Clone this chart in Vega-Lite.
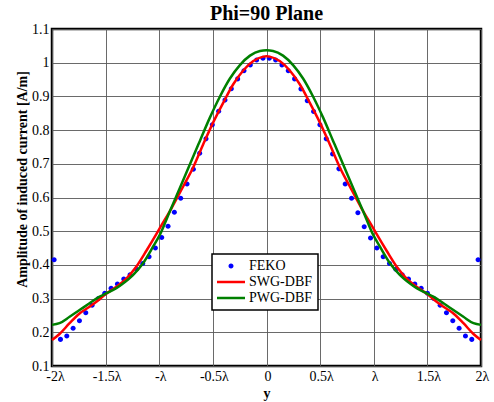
{
  "$schema": "https://vega.github.io/schema/vega-lite/v6.json",
  "width": 429,
  "height": 337,
  "autosize": "none",
  "padding": {"left": 52, "top": 29, "right": 13, "bottom": 36},
  "background": "white",
  "title": {"text": "Phi=90 Plane", "font": "Liberation Serif", "fontSize": 20, "fontWeight": "bold", "anchor": "middle", "offset": -2, "color": "black"},
  "config": {
    "font": "Liberation Serif",
    "view": {"stroke": "black", "strokeWidth": 2.5},
    "axis": {"domain": false, "ticks": false, "grid": true, "gridColor": "#5a5a5a", "gridWidth": 1, "gridOpacity": 0.9, "labelFont": "Liberation Serif", "labelFontSize": 14, "labelColor": "black", "titleFont": "Liberation Serif", "titleFontSize": 14, "titleFontWeight": "bold", "titleColor": "black"},
    "legend": {"orient": "none", "legendX": 160, "legendY": 225, "fillColor": "white", "strokeColor": "black", "strokeWidth": 1.5, "padding": 5,
      "symbolSize": 196, "symbolOffset": 7, "labelOffset": 11, "rowPadding": 2, "labelFont": "Liberation Serif", "labelFontSize": 14, "labelColor": "black"}
  },
  "datasets": {
    "feko": [
      {"x": -1.980, "y": 0.415}, {"x": -1.921, "y": 0.179}, {"x": -1.862, "y": 0.189}, {"x": -1.803, "y": 0.212},
      {"x": -1.744, "y": 0.234}, {"x": -1.685, "y": 0.258}, {"x": -1.626, "y": 0.280}, {"x": -1.567, "y": 0.300},
      {"x": -1.508, "y": 0.316}, {"x": -1.449, "y": 0.331}, {"x": -1.390, "y": 0.343}, {"x": -1.331, "y": 0.358},
      {"x": -1.272, "y": 0.371}, {"x": -1.213, "y": 0.387}, {"x": -1.154, "y": 0.404}, {"x": -1.095, "y": 0.424},
      {"x": -1.036, "y": 0.450}, {"x": -0.977, "y": 0.481}, {"x": -0.918, "y": 0.515}, {"x": -0.859, "y": 0.556},
      {"x": -0.800, "y": 0.598}, {"x": -0.741, "y": 0.640}, {"x": -0.682, "y": 0.684}, {"x": -0.623, "y": 0.731},
      {"x": -0.564, "y": 0.774}, {"x": -0.505, "y": 0.816}, {"x": -0.446, "y": 0.856}, {"x": -0.387, "y": 0.889},
      {"x": -0.328, "y": 0.923}, {"x": -0.269, "y": 0.952}, {"x": -0.210, "y": 0.976}, {"x": -0.151, "y": 0.993},
      {"x": -0.092, "y": 1.008}, {"x": -0.033, "y": 1.013}, {"x": 0.026, "y": 1.013}, {"x": 0.085, "y": 1.008},
      {"x": 0.144, "y": 0.993}, {"x": 0.203, "y": 0.976}, {"x": 0.262, "y": 0.952}, {"x": 0.321, "y": 0.922},
      {"x": 0.380, "y": 0.887}, {"x": 0.439, "y": 0.855}, {"x": 0.498, "y": 0.816}, {"x": 0.557, "y": 0.774},
      {"x": 0.616, "y": 0.729}, {"x": 0.675, "y": 0.685}, {"x": 0.734, "y": 0.640}, {"x": 0.793, "y": 0.598},
      {"x": 0.852, "y": 0.555}, {"x": 0.911, "y": 0.513}, {"x": 0.970, "y": 0.480}, {"x": 1.029, "y": 0.450},
      {"x": 1.088, "y": 0.424}, {"x": 1.147, "y": 0.404}, {"x": 1.206, "y": 0.387}, {"x": 1.265, "y": 0.371},
      {"x": 1.324, "y": 0.358}, {"x": 1.383, "y": 0.343}, {"x": 1.442, "y": 0.331}, {"x": 1.501, "y": 0.316},
      {"x": 1.560, "y": 0.300}, {"x": 1.619, "y": 0.280}, {"x": 1.678, "y": 0.258}, {"x": 1.737, "y": 0.234},
      {"x": 1.796, "y": 0.212}, {"x": 1.855, "y": 0.189}, {"x": 1.914, "y": 0.179}, {"x": 1.973, "y": 0.415}
    ],
    "swg": [
      {"x": -2.0, "y": 0.177}, {"x": -1.93, "y": 0.195}, {"x": -1.836, "y": 0.227}, {"x": -1.743, "y": 0.256},
      {"x": -1.65, "y": 0.276}, {"x": -1.556, "y": 0.298}, {"x": -1.509, "y": 0.311}, {"x": -1.40, "y": 0.335},
      {"x": -1.307, "y": 0.359}, {"x": -1.22, "y": 0.392}, {"x": -1.12, "y": 0.442}, {"x": -1.026, "y": 0.492},
      {"x": -0.995, "y": 0.509}, {"x": -0.886, "y": 0.568}, {"x": -0.778, "y": 0.632}, {"x": -0.684, "y": 0.689},
      {"x": -0.590, "y": 0.758}, {"x": -0.497, "y": 0.823}, {"x": -0.404, "y": 0.881}, {"x": -0.310, "y": 0.936},
      {"x": -0.217, "y": 0.977}, {"x": -0.123, "y": 1.005}, {"x": -0.03, "y": 1.018}, {"x": 0, "y": 1.019},
      {"x": 0.03, "y": 1.018}, {"x": 0.123, "y": 1.005}, {"x": 0.217, "y": 0.977}, {"x": 0.310, "y": 0.936},
      {"x": 0.404, "y": 0.881}, {"x": 0.497, "y": 0.823}, {"x": 0.590, "y": 0.758}, {"x": 0.684, "y": 0.689},
      {"x": 0.778, "y": 0.632}, {"x": 0.886, "y": 0.568}, {"x": 0.995, "y": 0.509}, {"x": 1.026, "y": 0.492},
      {"x": 1.12, "y": 0.442}, {"x": 1.22, "y": 0.392}, {"x": 1.307, "y": 0.359}, {"x": 1.40, "y": 0.335},
      {"x": 1.509, "y": 0.311}, {"x": 1.556, "y": 0.298}, {"x": 1.65, "y": 0.276}, {"x": 1.743, "y": 0.256},
      {"x": 1.836, "y": 0.227}, {"x": 1.93, "y": 0.195}, {"x": 2.0, "y": 0.177}
    ],
    "pwg": [
      {"x": -2.0, "y": 0.222}, {"x": -1.93, "y": 0.227}, {"x": -1.836, "y": 0.246}, {"x": -1.743, "y": 0.266},
      {"x": -1.65, "y": 0.286}, {"x": -1.556, "y": 0.306}, {"x": -1.49, "y": 0.316}, {"x": -1.40, "y": 0.331},
      {"x": -1.338, "y": 0.345}, {"x": -1.245, "y": 0.370}, {"x": -1.151, "y": 0.405}, {"x": -1.058, "y": 0.454},
      {"x": -0.995, "y": 0.489}, {"x": -0.900, "y": 0.560}, {"x": -0.808, "y": 0.628}, {"x": -0.715, "y": 0.698},
      {"x": -0.621, "y": 0.768}, {"x": -0.528, "y": 0.837}, {"x": -0.435, "y": 0.899}, {"x": -0.341, "y": 0.953},
      {"x": -0.248, "y": 0.993}, {"x": -0.154, "y": 1.021}, {"x": -0.061, "y": 1.035}, {"x": 0, "y": 1.037},
      {"x": 0.061, "y": 1.035}, {"x": 0.154, "y": 1.021}, {"x": 0.248, "y": 0.993}, {"x": 0.341, "y": 0.953},
      {"x": 0.435, "y": 0.899}, {"x": 0.528, "y": 0.837}, {"x": 0.621, "y": 0.768}, {"x": 0.715, "y": 0.698},
      {"x": 0.808, "y": 0.628}, {"x": 0.900, "y": 0.560}, {"x": 0.995, "y": 0.489}, {"x": 1.058, "y": 0.454},
      {"x": 1.151, "y": 0.405}, {"x": 1.245, "y": 0.370}, {"x": 1.338, "y": 0.345}, {"x": 1.40, "y": 0.331},
      {"x": 1.49, "y": 0.316}, {"x": 1.556, "y": 0.306}, {"x": 1.65, "y": 0.286}, {"x": 1.743, "y": 0.266},
      {"x": 1.836, "y": 0.246}, {"x": 1.93, "y": 0.227}, {"x": 2.0, "y": 0.222}
    ]
  },
  "encoding": {
    "x": {"field": "x", "type": "quantitative", "scale": {"domain": [-2, 2], "nice": false, "zero": false},
      "axis": {"title": "y", "values": [-2, -1.5, -1, -0.5, 0, 0.5, 1, 1.5, 2], "labelPadding": 3, "labelFlush": false,
        "labelOffset": {"condition": {"test": "datum.value == -2", "value": 3}, "value": 1},
        "labelExpr": "datum.value == 0 ? '0' : (datum.value < 0 ? '-' : '') + (abs(datum.value) == 1 ? '' : format(abs(datum.value), '~g')) + 'λ'",
        "titleY": 31, "titleBaseline": "alphabetic"}},
    "y": {"field": "y", "type": "quantitative", "scale": {"domain": [0.1, 1.1], "nice": false, "zero": false},
      "axis": {"title": "Amplitude of induced current [A/m]", "values": [0.1, 0.2, 0.3, 0.4, 0.5, 0.6, 0.7, 0.8, 0.9, 1, 1.1], "format": ".1~f", "labelPadding": 3,
        "titleX": -30, "titleY": 150, "titleAngle": -90, "titleBaseline": "middle", "titleAlign": "center"}},
    "color": {"field": "s", "type": "nominal", "scale": {"domain": ["FEKO", "SWG-DBF", "PWG-DBF"], "range": ["#0000ff", "#ff0000", "#008000"]},
      "legend": {"title": null,
        "encode": {"symbols": {"update": {"fill": {"scale": "color", "field": "value"}, "stroke": {"scale": "color", "field": "value"}, "strokeWidth": {"signal": "datum.value === 'FEKO' ? 0 : 2.5"}, "opacity": {"value": 1}}}}}}
  },
  "layer": [
    {
      "data": {"name": "feko"},
      "transform": [{"calculate": "'FEKO'", "as": "s"}],
      "mark": {"type": "point", "filled": true, "opacity": 1, "size": 196},
      "encoding": {
        "shape": {"field": "s", "type": "nominal", "scale": {"domain": ["FEKO", "SWG-DBF", "PWG-DBF"], "range": ["M-0.36,0A0.36,0.36 0 1,0 0.36,0A0.36,0.36 0 1,0 -0.36,0Z", "M-2,0H2", "M-2,0H2"]},
          "legend": {"title": null,
            "encode": {"symbols": {"update": {"fill": {"scale": "color", "field": "value"}, "stroke": {"scale": "color", "field": "value"}, "strokeWidth": {"signal": "datum.value === 'FEKO' ? 0 : 2.5"}, "opacity": {"value": 1}}}}}}
      }
    },
    {
      "data": {"name": "swg"},
      "transform": [{"calculate": "'SWG-DBF'", "as": "s"}],
      "mark": {"type": "line", "strokeWidth": 2.5, "interpolate": "monotone"}
    },
    {
      "data": {"name": "pwg"},
      "transform": [{"calculate": "'PWG-DBF'", "as": "s"}],
      "mark": {"type": "line", "strokeWidth": 2.5, "interpolate": "monotone"}
    }
  ]
}
